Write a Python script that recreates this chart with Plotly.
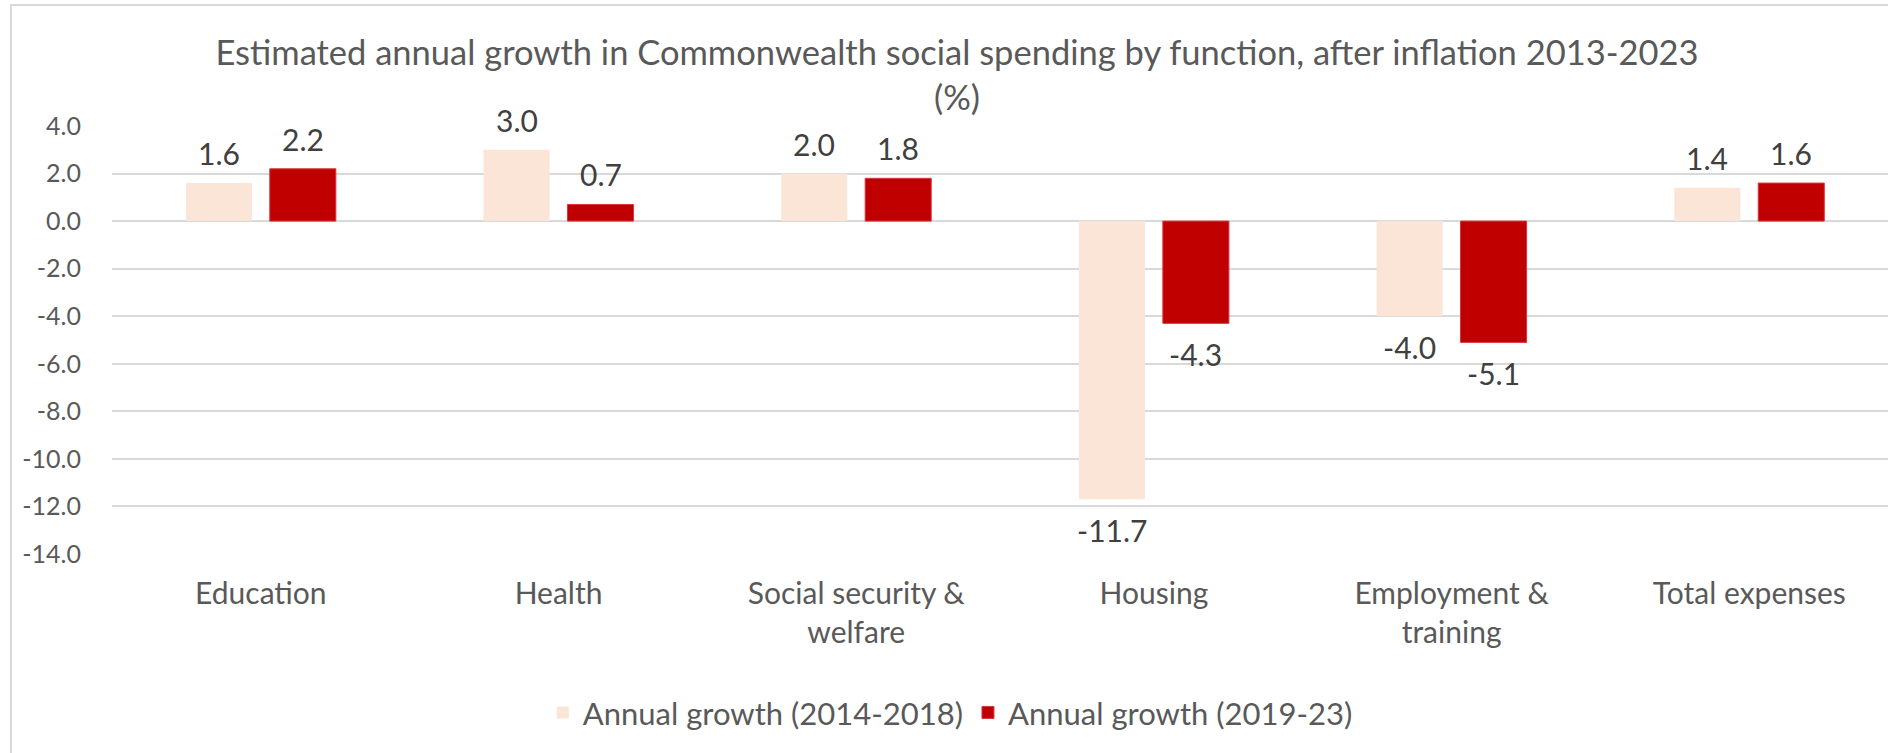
import plotly.graph_objects as go

categories = ["Education", "Health", "Social security &<br>welfare", "Housing",
              "Employment &<br>training", "Total expenses"]
growth_2014_2018 = [1.6, 3.0, 2.0, -11.7, -4.0, 1.4]
growth_2019_23 = [2.2, 0.7, 1.8, -4.3, -5.1, 1.6]
series_names = ["Annual growth (2014-2018)", "Annual growth (2019-23)"]
y_ticks = [4, 2, 0, -2, -4, -6, -8, -10, -12, -14]
y_tick_labels = ["4.0", "2.0", "0.0", "-2.0", "-4.0", "-6.0", "-8.0", "-10.0", "-12.0", "-14.0"]

FONT = "Lato"
GREY = "#595959"
LABEL = "#404040"
W, H = 1888, 753
L, T, B = 112, 126, 199
BARGAP, GROUPGAP = 0.436, 0.213
slot = (1 - BARGAP) / 2

fig = go.Figure()
series = [(series_names[0], growth_2014_2018, "#FBE5D6", "#FBE5D6"),
          (series_names[1], growth_2019_23, "#C00000", "#D9363E")]
annotations = []
for k, (name, vals, color, edge) in enumerate(series):
    fig.add_trace(go.Bar(
        x=categories, y=vals, name=name,
        marker=dict(color=color, line=dict(width=1 if k else 0, color=edge)),
        hoverinfo="skip"))
    off = (k - 0.5) * slot
    for i, v in enumerate(vals):
        annotations.append(dict(
            x=i + off, y=v, xref="x", yref="y", text=f"{v:.1f}", showarrow=False,
            xanchor="center", yanchor="middle", yshift=30 if v >= 0 else -31,
            font=dict(family=FONT, size=30, color=LABEL)))

fig.update_layout(
    width=W, height=H,
    margin=dict(l=L, r=0, t=T, b=B, autoexpand=False),
    paper_bgcolor="white", plot_bgcolor="white",
    barmode="group", bargap=BARGAP, bargroupgap=GROUPGAP,
    font=dict(family=FONT, color=GREY),
    title=dict(text="Estimated annual growth in Commonwealth social spending by function, after inflation 2013-2023<br>(%)",
               x=957 / W, xanchor="center", xref="container",
               y=1 - 65 / H, yanchor="top", yref="container",
               font=dict(family=FONT, size=34.5, color=GREY)),
    showlegend=True,
    legend=dict(orientation="h", x=0.472, xanchor="center", y=-0.371, yanchor="middle",
                font=dict(family=FONT, size=31, color=GREY), traceorder="normal"),
    xaxis=dict(range=[-0.5, 5.466], showgrid=False, showline=False, ticks="",
               tickfont=dict(family=FONT, size=30, color=GREY), ticklabelstandoff=19),
    yaxis=dict(range=[-14, 4], tickvals=y_ticks, ticktext=y_tick_labels,
               showgrid=True, gridcolor="#D9D9D9", gridwidth=1.5,
               zeroline=True, zerolinecolor="#D9D9D9", zerolinewidth=1.5,
               showline=False, ticks="", ticklabelstandoff=30,
               tickfont=dict(family=FONT, size=25, color=GREY)),
    annotations=annotations,
    shapes=[dict(type="rect", xref="paper", yref="paper",
                 x0=(11 - L) / (W - L), x1=1.05, y0=-0.6, y1=(H - B - 5) / (H - T - B),
                 line=dict(color="#D9D9D9", width=2), fillcolor="rgba(0,0,0,0)", layer="below")],
)

fig.write_html("out.html", config={"displayModeBar": False},
               post_script="document.body.style.margin='0';document.body.style.overflow='hidden';")
